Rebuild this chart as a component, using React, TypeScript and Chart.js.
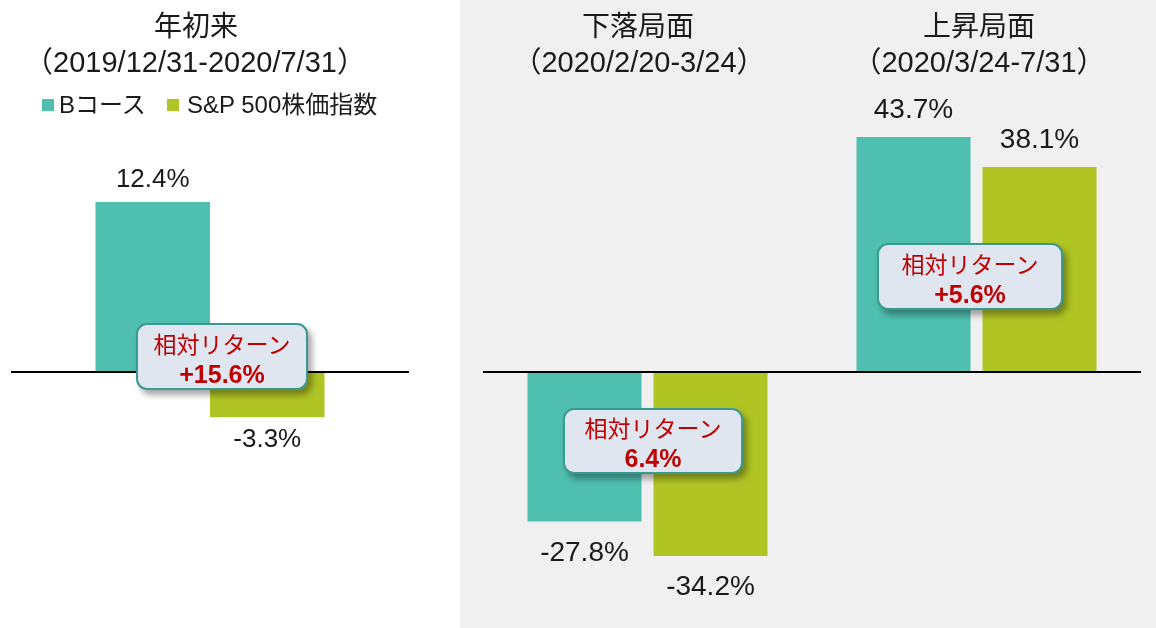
import React, { useEffect, useRef } from "react";
import { Chart, registerables } from "chart.js";

Chart.register(...registerables);

// ---- data ----
const ytdCategories = ["年初来"];
const ytdBCourse = [12.4];
const ytdSP500 = [-3.3];

const phaseCategories = ["下落局面", "上昇局面"];
const phaseBCourse = [-27.8, 43.7];
const phaseSP500 = [-34.2, 38.1];

const seriesNames = ["Bコース", "S&P 500株価指数"];
const periodLabels = ["（2019/12/31-2020/7/31）", "（2020/2/20-3/24）", "（2020/3/24-7/31）"];
const relativeLabel = "相対リターン";
const relativeReturns = ["+15.6%", "6.4%", "+5.6%"];

// ---- styles ----
const TEAL = "#4FBFAF";
const GREEN = "#B0C424";
const FONT = '"Liberation Sans", Arial, "Noto Sans CJK JP", sans-serif';

function makeAnnotPlugin(fontSize: number, posOff: number, negOff: number) {
  return {
    id: "annot",
    afterDatasetsDraw(chart: any) {
      const { ctx, chartArea, scales } = chart;
      const y0 = scales.y.getPixelForValue(0);
      ctx.save();
      ctx.strokeStyle = "#000";
      ctx.lineWidth = 2;
      ctx.beginPath();
      ctx.moveTo(chartArea.left, y0);
      ctx.lineTo(chartArea.right, y0);
      ctx.stroke();
      ctx.font = `${fontSize}px ${FONT}`;
      ctx.fillStyle = "#1a1a1a";
      ctx.textAlign = "center";
      ctx.textBaseline = "alphabetic";
      chart.data.datasets.forEach((ds: any, di: number) => {
        const meta = chart.getDatasetMeta(di);
        meta.data.forEach((el: any, i: number) => {
          const v = ds.data[i] as number;
          const y = v >= 0 ? el.y - posOff : el.y + negOff;
          ctx.fillText(`${v.toFixed(1)}%`, el.x, y);
        });
      });
      ctx.restore();
    },
  };
}

function makeConfig(
  labels: string[],
  a: number[],
  b: number[],
  min: number,
  max: number,
  padding: any,
  catPct: number,
  barPct: number,
  plugin: any
): any {
  return {
    type: "bar",
    data: {
      labels,
      datasets: [
        { label: seriesNames[0], data: a, backgroundColor: TEAL, borderWidth: 0, categoryPercentage: catPct, barPercentage: barPct },
        { label: seriesNames[1], data: b, backgroundColor: GREEN, borderWidth: 0, categoryPercentage: catPct, barPercentage: barPct },
      ],
    },
    options: {
      responsive: false,
      animation: false,
      layout: { padding },
      scales: {
        x: { display: false, grid: { display: false } },
        y: { display: false, min, max, grid: { display: false } },
      },
      plugins: {
        legend: { display: false },
        tooltip: { enabled: false },
        title: { display: false },
      },
    },
    plugins: [plugin],
  };
}

const titleStyle = (cx: number, top: number, size: number): React.CSSProperties => ({
  position: "absolute",
  left: cx,
  top,
  transform: "translateX(-50%)",
  whiteSpace: "nowrap",
  fontFamily: FONT,
  fontSize: size,
  lineHeight: "29px",
  color: "#1a1a1a",
});

function Callout({ left, top, width, height, value }: { left: number; top: number; width: number; height: number; value: string }) {
  return (
    <div
      style={{
        position: "absolute",
        left,
        top,
        width,
        height,
        boxSizing: "border-box",
        border: "2.5px solid #3A9A92",
        borderRadius: 11,
        background: "#DFE6F0",
        boxShadow: "4px 5px 6px rgba(0,0,0,0.35)",
        display: "flex",
        flexDirection: "column",
        alignItems: "center",
        justifyContent: "center",
        paddingTop: 6,
        color: "#C00000",
        fontFamily: FONT,
        zIndex: 5,
      }}
    >
      <div style={{ fontSize: 23, lineHeight: "29px", whiteSpace: "nowrap" }}>{relativeLabel}</div>
      <div style={{ fontSize: 25, lineHeight: "29px", fontWeight: "bold", whiteSpace: "nowrap" }}>{value}</div>
    </div>
  );
}

export default function App() {
  const leftRef = useRef<HTMLCanvasElement | null>(null);
  const rightRef = useRef<HTMLCanvasElement | null>(null);

  useEffect(() => {
    const left = new Chart(
      leftRef.current as HTMLCanvasElement,
      makeConfig(
        ytdCategories,
        ytdBCourse,
        ytdSP500,
        -18,
        26,
        { left: 11, right: 51, top: 15.5, bottom: 9.2 },
        0.5754,
        1.0,
        makeAnnotPlugin(26, 15, 30)
      )
    );
    const right = new Chart(
      rightRef.current as HTMLCanvasElement,
      makeConfig(
        phaseCategories,
        phaseBCourse,
        phaseSP500,
        -45,
        65,
        { left: 23, right: 15, top: 22.3, bottom: 13.9 },
        0.766,
        0.905,
        makeAnnotPlugin(28, 19, 39)
      )
    );
    return () => {
      left.destroy();
      right.destroy();
    };
  }, []);

  return (
    <div style={{ position: "absolute", left: 0, top: 0, width: 1156, height: 628, background: "#fff", overflow: "hidden" }}>
      <div style={{ position: "absolute", left: 0, top: 0, width: 460, height: 628, background: "#fff" }}>
        <canvas ref={leftRef} width={460} height={628} style={{ display: "block" }} />
      </div>
      <div style={{ position: "absolute", left: 460, top: 0, width: 696, height: 628, background: "#F0F0F0" }}>
        <canvas ref={rightRef} width={696} height={628} style={{ display: "block" }} />
      </div>

      {/* titles */}
      <div style={titleStyle(196, 12, 28)}>{ytdCategories[0]}</div>
      <div style={titleStyle(195, 48, 29)}>{periodLabels[0]}</div>
      <div style={titleStyle(638, 12, 28)}>{phaseCategories[0]}</div>
      <div style={titleStyle(639, 48, 29)}>{periodLabels[1]}</div>
      <div style={titleStyle(979, 12, 28)}>{phaseCategories[1]}</div>
      <div style={titleStyle(979, 48, 29)}>{periodLabels[2]}</div>

      {/* legend */}
      <div style={{ position: "absolute", left: 42, top: 99, width: 12, height: 12, background: TEAL }} />
      <div style={{ position: "absolute", left: 59, top: 92, fontFamily: FONT, fontSize: 24, lineHeight: "26px", color: "#1a1a1a", whiteSpace: "nowrap" }}>
        {seriesNames[0]}
      </div>
      <div style={{ position: "absolute", left: 167, top: 99, width: 12, height: 12, background: GREEN }} />
      <div style={{ position: "absolute", left: 187, top: 92, fontFamily: FONT, fontSize: 24, lineHeight: "26px", color: "#1a1a1a", whiteSpace: "nowrap" }}>
        {seriesNames[1]}
      </div>

      {/* callouts */}
      <Callout left={136} top={323} width={172} height={67} value={relativeReturns[0]} />
      <Callout left={563} top={408} width={180} height={66} value={relativeReturns[1]} />
      <Callout left={877} top={243} width={186} height={67} value={relativeReturns[2]} />
    </div>
  );
}
